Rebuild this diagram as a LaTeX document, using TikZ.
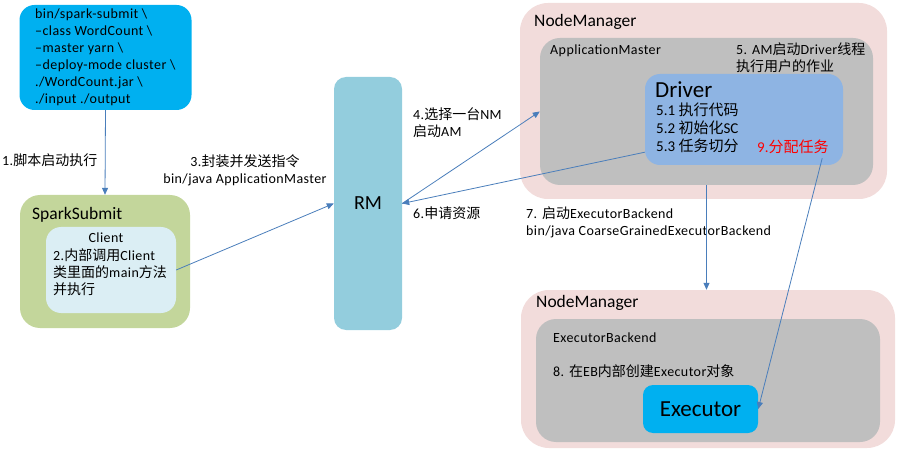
\documentclass[tikz,border=0pt]{standalone}
\usepackage{fontspec}
\setmainfont{Carlito}
\newfontfamily\latfont{Carlito}[LetterSpace=3,Ligatures=TeX]
\newfontfamily\cjk{Noto Sans CJK SC}
\newcommand\zh[1]{{\cjk #1}}
\usetikzlibrary{arrows.meta}
\definecolor{cmdblue}{HTML}{00B0F0}
\definecolor{ssgreen}{HTML}{C3D69B}
\definecolor{clientblue}{HTML}{DBEEF4}
\definecolor{rmblue}{HTML}{93CDDD}
\definecolor{nmpink}{HTML}{F2DCDB}
\definecolor{amgray}{HTML}{BFBFBF}
\definecolor{driverblue}{HTML}{8EB4E3}
\definecolor{arrowblue}{HTML}{4A7EBB}
\tikzset{
  box/.style={draw=none, inner sep=0pt},
  lbl/.style={inner sep=0pt, anchor=west, align=left, font=\latfont\fontsize{14}{17}\selectfont},
  arr/.style={draw=arrowblue, line width=0.8pt, -{Triangle[length=7pt,width=6pt]}},
  big/.style={font=\fontsize{17.5}{20}\selectfont},
  huge/.style={font=\fontsize{23}{26}\selectfont}
}
\begin{document}
\begin{tikzpicture}[x=1pt,y=-1pt]
\useasboundingbox (0,0) rectangle (899,454);
% containers
\node[box, fill=cmdblue, minimum width=172pt, minimum height=105pt, rounded corners=15pt] (cmd) at (105.5,57.5) {};
\node[lbl] (cmdtext) at (35,57) {bin/spark-submit \textbackslash\\\textendash class WordCount \textbackslash\\\textendash master yarn \textbackslash\\\textendash deploy-mode cluster \textbackslash\\./WordCount.jar \textbackslash\\./input ./output};

\node[box, fill=ssgreen, minimum width=170pt, minimum height=133pt, rounded corners=20pt] (ss) at (105,261.5) {};
\node[lbl, big] (sstitle) at (32,215) {SparkSubmit};
\node[box, fill=clientblue, minimum width=130pt, minimum height=86pt, rounded corners=15pt] (cl) at (111,270) {};
\node[lbl, anchor=center] (cltitle) at (106,238) {Client};
\node[lbl] (cltext) at (53,272) {2.\zh{内部调用}Client\\\zh{类里面的}main\zh{方法}\\\zh{并执行}};

\node[box, fill=rmblue, minimum width=68pt, minimum height=253pt, rounded corners=12pt, font=\fontsize{20}{24}\selectfont] (rm) at (368,203.5) {RM};

\node[box, fill=nmpink, minimum width=367pt, minimum height=196pt, rounded corners=28pt] (nm1) at (703.5,101) {};
\node[lbl, big] (nm1title) at (534,22) {NodeManager};
\node[box, fill=amgray, minimum width=333pt, minimum height=147pt, rounded corners=20pt] (am) at (706.5,111.5) {};
\node[lbl] (amtitle) at (550,51) {ApplicationMaster};
\node[lbl] (amnote) at (736,58) {5. AM\zh{启动}Driver\zh{线程}\\\zh{执行用户的作业}};
\node[box, fill=driverblue, minimum width=198pt, minimum height=91pt, rounded corners=15pt] (driver) at (744,119.5) {};
\node[lbl, huge] (drtitle) at (655,90) {Driver};
\node[lbl, font=\fontsize{15}{18}\selectfont] (drtext) at (656,128) {5.1 \zh{执行代码}\\5.2 \zh{初始化}SC\\5.3 \zh{任务切分}};
\node[lbl, text=red, font=\fontsize{15}{18}\selectfont] (assign) at (757,147) {9.\zh{分配任务}};

\node[box, fill=nmpink, minimum width=374pt, minimum height=158pt, rounded corners=28pt] (nm2) at (708,369) {};
\node[lbl, big] (nm2title) at (536,303) {NodeManager};
\node[box, fill=amgray, minimum width=344pt, minimum height=123pt, rounded corners=20pt] (eb) at (708,380.5) {};
\node[lbl] (ebtitle) at (553,338) {ExecutorBackend};
\node[lbl] (ebtext) at (553,371) {8. \zh{在}EB\zh{内部创建}Executor\zh{对象}};
\node[box, fill=cmdblue, minimum width=115pt, minimum height=48pt, rounded corners=10pt, huge] (exec) at (700.5,409) {Executor};

% arrow labels
\node[lbl] (l1) at (2,160) {1.\zh{脚本启动执行}};
\node[lbl, anchor=center, align=center] (l3) at (245,170) {3.\zh{封装并发送指令}\\bin/java ApplicationMaster};
\node[lbl] (l4) at (413,123) {4.\zh{选择一台}NM\\\zh{启动}AM};
\node[lbl] (l6) at (413,213) {6.\zh{申请资源}};
\node[lbl] (l7) at (526,222) {7. \zh{启动}ExecutorBackend\\bin/java CoarseGrainedExecutorBackend};

% connectors
\draw[arr] (cmd.south) -- (ss.north);
\draw[arr] (cl.east) -- (rm.west);
\draw[arr] (rm.east) -- (am.west);
\draw[arr] ([yshift=13pt]driver.south west) -- (rm.east);
\draw[arr] (am.south) -- (am.south |- nm2.north);
\draw[arr] ([xshift=-21pt,yshift=7pt]driver.south east) -- (exec.east);
\end{tikzpicture}
\end{document}
